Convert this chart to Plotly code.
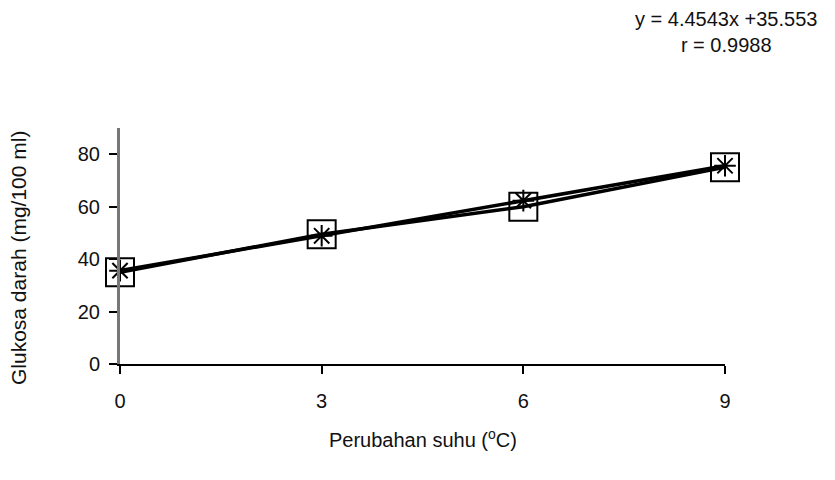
import plotly.graph_objects as go

suhu = [0, 3, 6, 9]
glukosa_obs = [35.0, 49.5, 60.0, 75.0]
glukosa_reg = [35.6, 48.9, 62.3, 75.6]
x_ticks = [0, 3, 6, 9]
y_ticks = [0, 20, 40, 60, 80]
eq_text = "y = 4.4543x +35.553<br>r = 0.9988"

fam = "Liberation Sans, Arial, sans-serif"
font = dict(family=fam, size=20, color="#111")

fig = go.Figure()
fig.add_trace(go.Scatter(
    x=suhu, y=glukosa_obs, mode="lines+markers",
    line=dict(color="black", width=3.5),
    marker=dict(symbol="square-open", size=28, color="black", line=dict(width=2)),
    cliponaxis=False, showlegend=False))
fig.add_trace(go.Scatter(
    x=suhu, y=glukosa_reg, mode="lines+markers",
    line=dict(color="black", width=3.5),
    marker=dict(symbol="asterisk-open", size=18, color="black", line=dict(width=2, color="black")),
    cliponaxis=False, showlegend=False))

L, T, PW, PH = 112, 120, 605, 236
fig.update_layout(
    width=835, height=480,
    margin=dict(l=L, r=835 - L - PW, t=T, b=480 - T - PH),
    paper_bgcolor="white", plot_bgcolor="white",
    font=font,
    xaxis=dict(range=[0, 9], tickvals=x_ticks, ticks="outside", ticklen=8, tickwidth=1.5,
               tickcolor="black", showline=True, linecolor="black", linewidth=2,
               showgrid=False, zeroline=False, tickfont=font, ticklabelstandoff=10),
    yaxis=dict(range=[0, 90], tickvals=y_ticks, ticks="outside", ticklen=8, tickwidth=1.5,
               tickcolor="black", showline=True, linecolor="#777", linewidth=3,
               showgrid=False, zeroline=False, tickfont=font, ticklabelstandoff=5),
    annotations=[
        dict(text=eq_text, x=(726 - 120) / PW, y=(364 - 32) / PH, xref="paper", yref="paper",
             showarrow=False, font=dict(family=fam, size=20, color="#111"),
             xanchor="center", yanchor="middle", align="center"),
        dict(text="Perubahan suhu (<sup>o</sup>C)", x=0.5, y=-(438 - 364) / PH, xref="paper", yref="paper",
             showarrow=False, font=font, xanchor="center", yanchor="middle"),
        dict(text="Glukosa darah (mg/100 ml)", x=-(120 - 18) / PW, y=(364 - 258) / PH,
             xref="paper", yref="paper",
             showarrow=False, font=dict(family=fam, size=21, color="#111"), textangle=-90,
             xanchor="center", yanchor="middle"),
    ],
)

fig.write_html("out.html")
